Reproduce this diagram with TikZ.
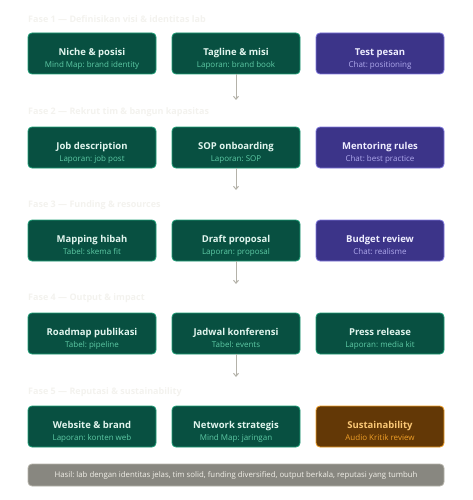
\documentclass[tikz,border=0pt]{standalone}
\usepackage{fontspec}
\setmainfont{Open Sans}
\frenchspacing
\usetikzlibrary{arrows.meta}
\definecolor{gfill}{HTML}{085041}
\definecolor{gline}{HTML}{1D9E75}
\definecolor{gtitle}{HTML}{E1F5EE}
\definecolor{gsub}{HTML}{5DCAA5}
\definecolor{pfill}{HTML}{3C3489}
\definecolor{pline}{HTML}{7F77DD}
\definecolor{ptitle}{HTML}{EEEDFE}
\definecolor{psub}{HTML}{AFA9EC}
\definecolor{bfill}{HTML}{633806}
\definecolor{bline}{HTML}{EF9F27}
\definecolor{btitle}{HTML}{FAC775}
\definecolor{bsub}{HTML}{EF9F27}
\definecolor{rfill}{HTML}{888780}
\definecolor{rline}{HTML}{B4B2A9}
\definecolor{rtext}{HTML}{F1EFE8}
\definecolor{phase}{HTML}{F3F2EE}
\definecolor{arr}{HTML}{B4B2A9}
\tikzset{
  box/.style={rounded corners=4pt, line width=0.8pt, minimum width=128pt, minimum height=41pt, inner sep=0pt, align=center},
  gbox/.style={box, fill=gfill, draw=gline},
  pbox/.style={box, fill=pfill, draw=pline},
  bbox/.style={box, fill=bfill, draw=bline},
  phaselbl/.style={anchor=west, text=phase, font=\bfseries\fontsize{9}{11}\selectfont, inner sep=0pt},
  flow/.style={draw=arr, line width=1pt, -{Straight Barb[length=3pt,width=5pt]}},
}
\newcommand{\twoline}[4]{\rule{0pt}{17pt}{\color{#1}\bfseries\fontsize{9.5}{11}\selectfont #2}\\[0pt]{\color{#3}\fontsize{8}{10}\selectfont #4}}
\begin{document}
\begin{tikzpicture}[x=1pt,y=-1pt]
\useasboundingbox (0,0) rectangle (472,500);
% phase labels
\node[phaselbl] (f1) at (28,19) {Fase 1 — Definisikan visi \& identitas lab};
\node[phaselbl] (f2) at (28,112) {Fase 2 — Rekrut tim \& bangun kapasitas};
\node[phaselbl] (f3) at (28,205) {Fase 3 — Funding \& resources};
\node[phaselbl] (f4) at (28,298) {Fase 4 — Output \& impact};
\node[phaselbl] (f5) at (28,392) {Fase 5 — Reputasi \& sustainability};

\node[gbox] (a1) at (92,53.5) {\twoline{gtitle}{Niche \& posisi}{gsub}{Mind Map: brand identity}};
\node[gbox] (b1) at (236,53.5) {\twoline{gtitle}{Tagline \& misi}{gsub}{Laporan: brand book}};
\node[pbox] (c1) at (380,53.5) {\twoline{ptitle}{Test pesan}{psub}{Chat: positioning}};

\node[gbox] (a2) at (92,147.5) {\twoline{gtitle}{Job description}{gsub}{Laporan: job post}};
\node[gbox] (b2) at (236,147.5) {\twoline{gtitle}{SOP onboarding}{gsub}{Laporan: SOP}};
\node[pbox] (c2) at (380,147.5) {\twoline{ptitle}{Mentoring rules}{psub}{Chat: best practice}};

\node[gbox] (a3) at (92,240.5) {\twoline{gtitle}{Mapping hibah}{gsub}{Tabel: skema fit}};
\node[gbox] (b3) at (236,240.5) {\twoline{gtitle}{Draft proposal}{gsub}{Laporan: proposal}};
\node[pbox] (c3) at (380,240.5) {\twoline{ptitle}{Budget review}{psub}{Chat: realisme}};

\node[gbox] (a4) at (92,333.5) {\twoline{gtitle}{Roadmap publikasi}{gsub}{Tabel: pipeline}};
\node[gbox] (b4) at (236,333.5) {\twoline{gtitle}{Jadwal konferensi}{gsub}{Tabel: events}};
\node[gbox] (c4) at (380,333.5) {\twoline{gtitle}{Press release}{gsub}{Laporan: media kit}};

\node[gbox] (a5) at (92,426.5) {\twoline{gtitle}{Website \& brand}{gsub}{Laporan: konten web}};
\node[gbox] (b5) at (236,426.5) {\twoline{gtitle}{Network strategis}{gsub}{Mind Map: jaringan}};
\node[bbox] (c5) at (380,426.5) {\twoline{btitle}{Sustainability}{bsub}{Audio Kritik review}};

% result bar
\node[rounded corners=4pt, fill=rfill, draw=rline, line width=0.8pt, minimum width=416pt, minimum height=22pt, inner sep=0pt, text=rtext, font=\fontsize{7.8}{9}\selectfont] (res) at (236,475) {Hasil: lab dengan identitas jelas, tim solid, funding diversified, output berkala, reputasi yang tumbuh};

% arrows
\coordinate (e1) at (236,100);
\coordinate (e2) at (236,190);
\coordinate (e3) at (236,284);
\coordinate (e4) at (236,377);
\draw[flow] (b1.south) -- (e1);
\draw[flow] (b2.south) -- (e2);
\draw[flow] (b3.south) -- (e3);
\draw[flow] (b4.south) -- (e4);
\end{tikzpicture}
\end{document}
